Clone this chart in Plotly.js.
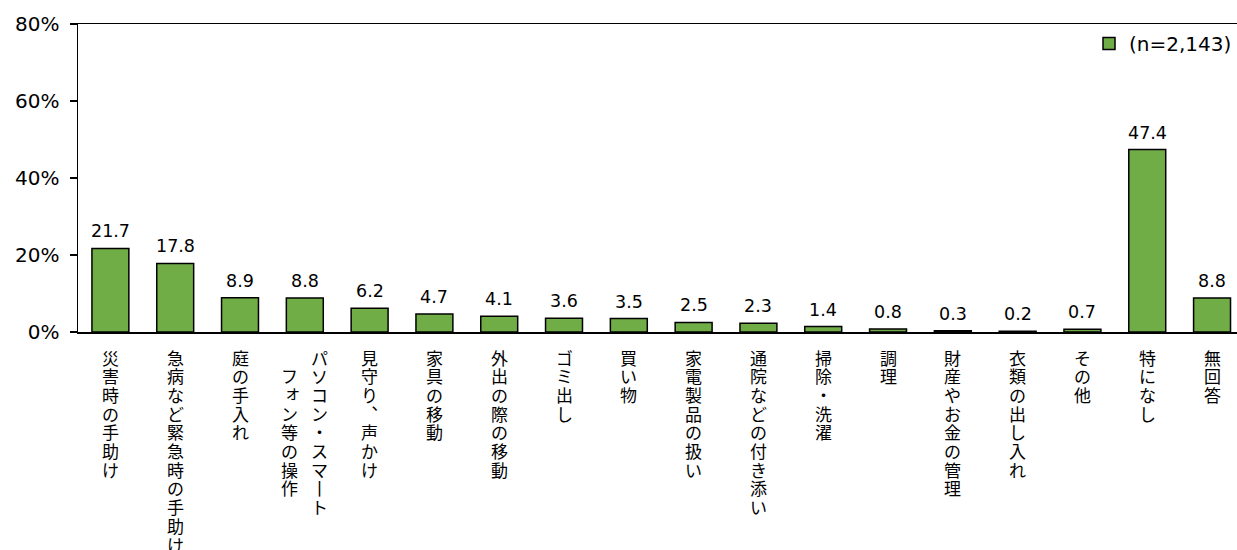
<!DOCTYPE html>
<html>
<head>
<meta charset="utf-8">
<script src="https://cdn.plot.ly/plotly-3.0.1.min.js"></script>
<style>html,body{margin:0;padding:0;background:#fff;}#chart{width:1237px;height:550px;}</style>
</head>
<body>
<div id="chart"></div>
<script>
// ---- data ----
const categories = [
  '災害時の手助け',
  '急病など緊急時の手助け',
  '庭の手入れ',
  'パソコン・スマートフォン等の操作',
  '見守り、声かけ',
  '家具の移動',
  '外出の際の移動',
  'ゴミ出し',
  '買い物',
  '家電製品の扱い',
  '通院などの付き添い',
  '掃除・洗濯',
  '調理',
  '財産やお金の管理',
  '衣類の出し入れ',
  'その他',
  '特になし',
  '無回答'
];
const values = [21.7, 17.8, 8.9, 8.8, 6.2, 4.7, 4.1, 3.6, 3.5, 2.5, 2.3, 1.4, 0.8, 0.3, 0.2, 0.7, 47.4, 8.8];
const seriesName = '(n=2,143)';
const yTickVals = [0, 20, 40, 60, 80];
const yTickText = ['0%', '20%', '40%', '60%', '80%'];
// label wrapping as in the original (vertical columns)
const wrapped = { 'パソコン・スマートフォン等の操作': ['パソコン・スマート', 'フォン等の操作'] };

// ---- styling ----
const JP = '"Noto Sans CJK JP", "Noto Sans", sans-serif';
const LAT = '"DejaVu Sans", Verdana, sans-serif';
const verticalForm = { 'ー': '丨', '、': '︑' };
const smallKana = 'ァィゥェォャュョッぁぃぅぇぉゃゅょっ';
const charPitch = 18.7;
const colPitch = 30;
const firstCharOffset = 25;

const annotations = [];
categories.forEach((cat, idx) => {
  const cols = wrapped[cat] || [cat];
  const maxLen = Math.max(...cols.map(c => [...c].length));
  cols.forEach((col, c) => {
    const chars = [...col];
    const startOff = cols.length > 1 ? (maxLen - chars.length) / 2 : 0;
    const xs = (cols.length - 1) / 2 * colPitch - c * colPitch;
    chars.forEach((ch, i) => {
      const small = smallKana.includes(ch);
      annotations.push({
        x: idx, xref: 'x', y: 0, yref: 'paper',
        text: verticalForm[ch] || ch,
        showarrow: false, xanchor: 'center', yanchor: 'middle',
        xshift: xs + (small ? 3 : 0),
        yshift: -(firstCharOffset + (startOff + i) * charPitch) + (small ? 3 : 0),
        font: { family: JP, size: 17, color: '#000' }
      });
    });
  });
});
values.forEach((v, idx) => {
  annotations.push({
    x: idx, xref: 'x', y: v, yref: 'y',
    text: v.toFixed(1), showarrow: false,
    xanchor: 'center', yanchor: 'bottom', yshift: 5,
    font: { family: LAT, size: 17.5, color: '#000' }
  });
});

const trace = {
  type: 'bar',
  x: categories.map((_, i) => i),
  y: values,
  name: seriesName,
  width: 0.57,
  marker: { color: '#70AD47', line: { color: '#000', width: 1.5 } },
  hoverinfo: 'none',
  showlegend: true
};

const layout = {
  width: 1237, height: 550,
  margin: { l: 78, r: 0, t: 24, b: 218 },
  paper_bgcolor: '#fff', plot_bgcolor: '#fff',
  showlegend: true,
  legend: {
    x: 1, xanchor: 'right', y: 1, yanchor: 'top',
    font: { family: LAT, size: 20, color: '#000' },
    bgcolor: 'rgba(0,0,0,0)', itemwidth: 30
  },
  xaxis: {
    range: [-0.5, 17.385],
    showticklabels: false, ticks: '',
    showline: true, linecolor: '#000', linewidth: 1.5, mirror: true,
    showgrid: false, zeroline: false, fixedrange: true
  },
  yaxis: {
    range: [0, 80],
    tickvals: yTickVals, ticktext: yTickText,
    ticks: 'outside', ticklen: 7, tickwidth: 1.5, tickcolor: '#000',
    showline: true, linecolor: '#000', linewidth: 1.5,
    showgrid: false, zeroline: false,
    tickfont: { family: LAT, size: 20, color: '#000' },
    ticklabelstandoff: 6, fixedrange: true
  },
  annotations: annotations
};

Plotly.newPlot('chart', [trace], layout, { displayModeBar: false, staticPlot: true });
</script>
</body>
</html>
